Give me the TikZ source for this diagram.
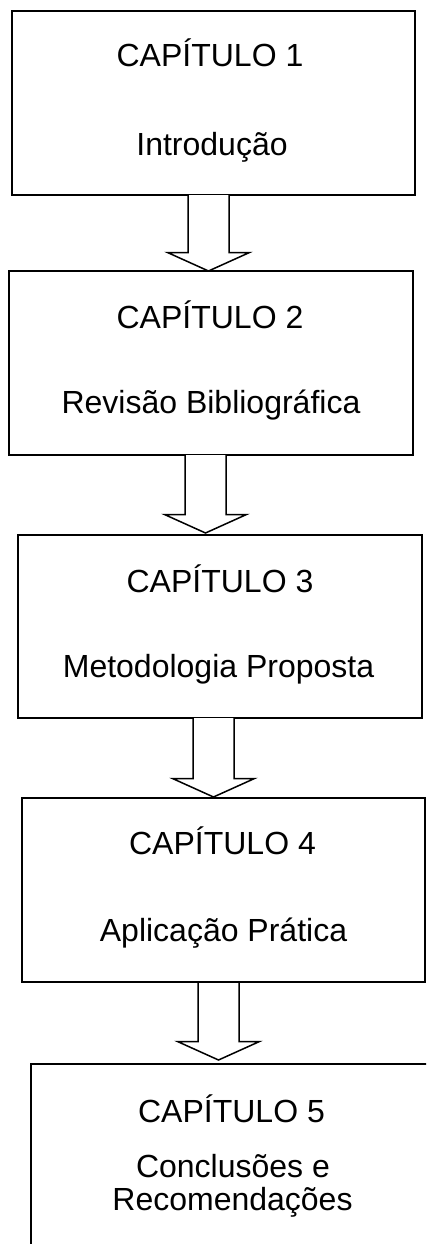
\documentclass[tikz,border=0pt]{standalone}
\usepackage{fontspec}
\setmainfont{Liberation Sans}
\usetikzlibrary{calc}
\tikzset{
  chapbox/.style={draw=black, line width=2pt, fill=white, inner sep=0pt},
  chaptext/.style={anchor=base, inner sep=0pt, font=\fontsize{32}{38}\selectfont},
  arrowline/.style={draw=black, line width=1.5pt, fill=white, line join=miter}
}
\newcommand\hollowarrow[2]{% #1 = start coordinate name, #2 = tip coordinate name
  \draw[arrowline] let \p1=(#1), \p2=(#2) in
    (\x2-20.5pt,\y1) -- (\x2-20.5pt,\y2+18.5pt) -- (\x2-41pt,\y2+18.5pt) -- (\x2,\y2)
    -- (\x2+41pt,\y2+18.5pt) -- (\x2+20.5pt,\y2+18.5pt) -- (\x2+20.5pt,\y1);
}
\begin{document}
\begin{tikzpicture}[x=1pt,y=-1pt]
\useasboundingbox (0,0) rectangle (426,1244);
\clip (0,0) rectangle (426,1244);
\fill[white] (0,0) rectangle (426,1244);

% boxes
\node[chapbox, minimum width=403pt, minimum height=184pt] (b1) at (213.5,103) {};
\node[chapbox, minimum width=404pt, minimum height=184pt] (b2) at (211,363) {};
\node[chapbox, minimum width=404pt, minimum height=183pt] (b3) at (220,626.5) {};
\node[chapbox, minimum width=403pt, minimum height=184pt] (b4) at (223.5,890) {};
\node[chapbox, minimum width=420pt, minimum height=200pt] (b5) at (241,1164) {};

% texts
\node[chaptext] (t1a) at (210,67) {CAPÍTULO 1};
\node[chaptext] (t1b) at (212,155) {Introdução};
\node[chaptext] (t2a) at (210,328) {CAPÍTULO 2};
\node[chaptext] (t2b) at (211,413) {Revisão Bibliográfica};
\node[chaptext] (t3a) at (220,592) {CAPÍTULO 3};
\node[chaptext] (t3b) at (218.5,677) {Metodologia Proposta};
\node[chaptext] (t4a) at (222.5,854) {CAPÍTULO 4};
\node[chaptext] (t4b) at (223.5,941) {Aplicação Prática};
\node[chaptext] (t5a) at (231.5,1122) {CAPÍTULO 5};
\node[chaptext] (t5b) at (233,1177) {Conclusões e};
\node[chaptext] (t5c) at (232.5,1210) {Recomendações};

% arrow anchor points
\coordinate (a1s) at (208.5,195);  \coordinate (a1t) at (208.5,271);
\coordinate (a2s) at (205.5,455);  \coordinate (a2t) at (205.5,533);
\coordinate (a3s) at (213.5,718);  \coordinate (a3t) at (213.5,797);
\coordinate (a4s) at (218.5,983);  \coordinate (a4t) at (218.5,1060);

\hollowarrow{a1s}{a1t}
\hollowarrow{a2s}{a2t}
\hollowarrow{a3s}{a3t}
\hollowarrow{a4s}{a4t}
\end{tikzpicture}
\end{document}
